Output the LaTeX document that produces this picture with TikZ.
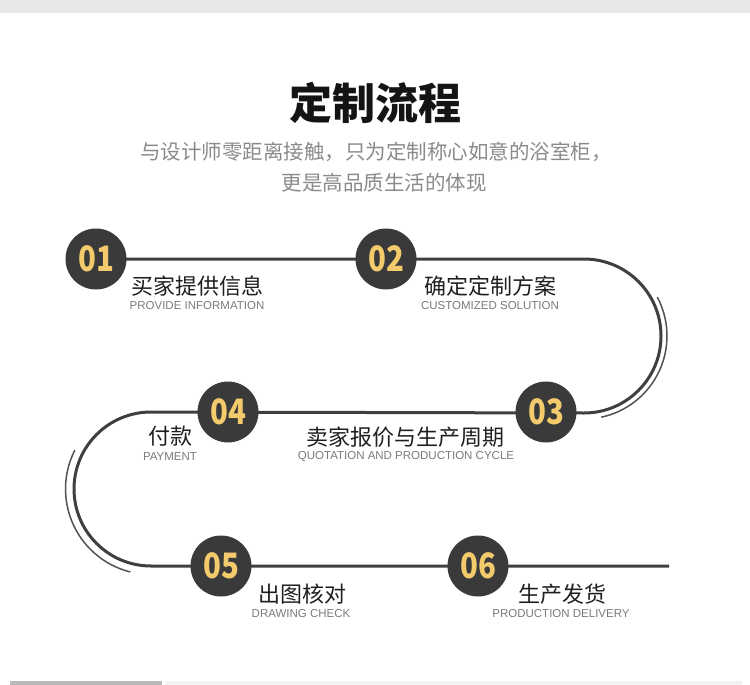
\documentclass[tikz,border=0pt]{standalone}
\usepackage{fontspec}
\setmainfont{Liberation Sans}
\newfontfamily\cjk{Noto Sans CJK SC}
\newfontfamily\numfont[FakeStretch=0.84]{Noto Sans CJK SC}
\usetikzlibrary{backgrounds}

\definecolor{bandgray}{HTML}{E8E8E8}
\definecolor{circdark}{HTML}{3A3A3A}
\definecolor{numgold}{HTML}{F3CB6C}
\definecolor{linedark}{HTML}{3F3F3F}
\definecolor{subgray}{HTML}{8A8A8A}
\definecolor{engray}{HTML}{7A7A7A}

\tikzset{
  stepnum/.style={circle, fill=circdark, text=numgold, minimum size=61pt,
    inner sep=0pt, font=\numfont\bfseries\fontsize{35}{35}\selectfont},
  cnlabel/.style={font=\cjk\fontsize{22}{22}\selectfont, text=black!88},
  enlabel/.style={font=\fontsize{11.5}{11.5}\selectfont, text=engray},
  track/.style={line width=3pt, draw=linedark},
  echo/.style={line width=1.5pt, draw=linedark!90}
}

\begin{document}
\begin{tikzpicture}[x=1pt,y=-1pt]

\useasboundingbox (0,0) rectangle (750,685);

% bandes haut et bas
\fill[bandgray] (0,0) rectangle (750,13);
\fill[gray!55] (10,681) rectangle (162,685);
\fill[gray!10] (165,681) rectangle (742,685);

% titre
\node[font=\cjk\bfseries\fontsize{43}{43}\selectfont, text=black!92] (title) at (375,103) {定制流程};
\node[font=\cjk\fontsize{20.5}{20.5}\selectfont, text=subgray] (sub1) at (376,152)
{与设计师零距离接触，只为定制称心如意的浴室柜，};
\node[font=\cjk\fontsize{20.5}{20.5}\selectfont, text=subgray] (sub2) at (384,183)
{更是高品质生活的体现};

% etapes
\node[stepnum] (n1) at (96,259) {01};
\node[stepnum] (n2) at (386,259) {02};
\node[stepnum] (n3) at (546,412) {03};
\node[stepnum] (n4) at (228,412) {04};
\node[stepnum] (n5) at (221,566) {05};
\node[stepnum] (n6) at (478,566) {06};

\coordinate (rtop) at (584,259);
\coordinate (ltop) at (151,412);
\coordinate (tail) at (669,566);

% chemin
\begin{scope}[on background layer]
\draw[track] (n1.center) -- (rtop) arc(-90:90:77) -- (ltop) arc(270:90:77) -- (tail);
\draw[echo] (584,336) ++(-28:83) arc(-28:78:83);
\draw[echo] (151,489) ++(207:85.5) arc(207:104:85.5);
\end{scope}

% textes
\node[cnlabel] (c1) at (197,286) {买家提供信息};
\node[enlabel] (e1) at (197,306) {PROVIDE INFORMATION};

\node[cnlabel] (c2) at (490,286) {确定定制方案};
\node[enlabel] (e2) at (490,306) {CUSTOMIZED SOLUTION};

\node[cnlabel] (c3) at (405,437) {卖家报价与生产周期};
\node[enlabel] (e3) at (406,457) {QUOTATION AND PRODUCTION CYCLE};

\node[cnlabel] (c4) at (170,436) {付款};
\node[enlabel] (e4) at (170,457) {PAYMENT};

\node[cnlabel] (c5) at (302,594) {出图核对};
\node[enlabel] (e5) at (301,614) {DRAWING CHECK};

\node[cnlabel] (c6) at (562,594) {生产发货};
\node[enlabel] (e6) at (561,614) {PRODUCTION DELIVERY};

\end{tikzpicture}
\end{document}
